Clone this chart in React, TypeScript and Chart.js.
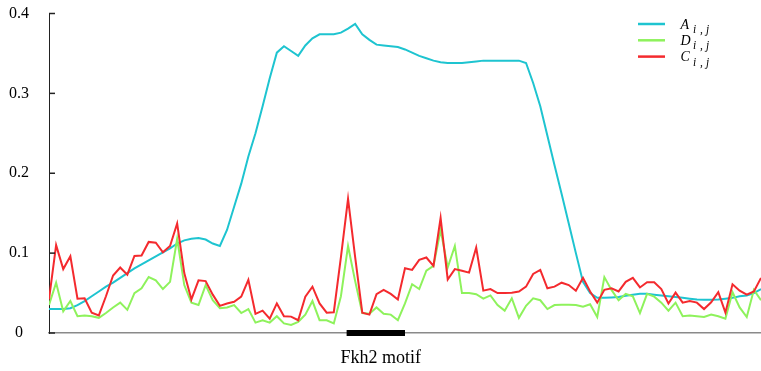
import React, { useEffect, useRef } from "react";
import { Chart, registerables } from "chart.js";

Chart.register(...registerables);

// Series values, one per position (0..100)
const seriesA = [
  0.030, 0.030, 0.030, 0.031, 0.035, 0.040, 0.046, 0.052, 0.058, 0.063,
  0.069, 0.075, 0.081, 0.086, 0.091, 0.096, 0.101, 0.106, 0.112, 0.116,
  0.118, 0.119, 0.117, 0.112, 0.109, 0.129, 0.158, 0.187, 0.221, 0.250,
  0.284, 0.319, 0.351, 0.359, 0.353, 0.347, 0.360, 0.369, 0.374, 0.374,
  0.374, 0.376, 0.381, 0.387, 0.374, 0.367, 0.361, 0.360, 0.359, 0.358,
  0.355, 0.351, 0.347, 0.344, 0.341, 0.339, 0.338, 0.338, 0.338, 0.339,
  0.340, 0.341, 0.341, 0.341, 0.341, 0.341, 0.341, 0.338, 0.313, 0.284,
  0.247, 0.210, 0.174, 0.137, 0.100, 0.064, 0.050, 0.044, 0.044, 0.0445,
  0.045, 0.0465, 0.048, 0.049, 0.049, 0.048, 0.047, 0.046, 0.045, 0.044,
  0.043, 0.042, 0.0415, 0.0415, 0.042, 0.043, 0.044, 0.046, 0.047, 0.050,
  0.055,
];

const seriesD = [
  0.035, 0.063, 0.027, 0.040, 0.021, 0.022, 0.021, 0.019, 0.025, 0.032,
  0.038, 0.029, 0.050, 0.056, 0.070, 0.066, 0.055, 0.064, 0.118, 0.060,
  0.038, 0.035, 0.060, 0.041, 0.031, 0.032, 0.035, 0.025, 0.030, 0.013,
  0.016, 0.013, 0.021, 0.012, 0.010, 0.014, 0.023, 0.040, 0.016, 0.016,
  0.012, 0.046, 0.109, 0.065, 0.025, 0.024, 0.032, 0.024, 0.023, 0.016,
  0.037, 0.061, 0.055, 0.078, 0.084, 0.129, 0.082, 0.109, 0.050, 0.050,
  0.0485, 0.043, 0.047, 0.035, 0.028, 0.0435, 0.019, 0.034, 0.0435, 0.041,
  0.030, 0.035, 0.0355, 0.0355, 0.035, 0.033, 0.036, 0.020, 0.070, 0.054,
  0.041, 0.049, 0.046, 0.025, 0.049, 0.0455, 0.038, 0.028, 0.038, 0.021,
  0.022, 0.021, 0.020, 0.023, 0.021, 0.018, 0.051, 0.032, 0.020, 0.054,
  0.041,
];

const seriesC = [
  0.042, 0.110, 0.080, 0.096, 0.043, 0.0435, 0.0255, 0.022, 0.046, 0.072,
  0.082, 0.073, 0.0965, 0.097, 0.114, 0.113, 0.101, 0.109, 0.137, 0.075,
  0.042, 0.066, 0.065, 0.048, 0.034, 0.037, 0.039, 0.0455, 0.0665, 0.024,
  0.028, 0.018, 0.037, 0.021, 0.0205, 0.016, 0.0455, 0.058, 0.037, 0.0255,
  0.026, 0.095, 0.168, 0.095, 0.0255, 0.023, 0.0485, 0.054, 0.049, 0.042,
  0.081, 0.079, 0.0915, 0.0945, 0.084, 0.144, 0.067, 0.080, 0.078, 0.0756,
  0.107, 0.053, 0.055, 0.050, 0.050, 0.0505, 0.052, 0.058, 0.074, 0.079,
  0.056, 0.058, 0.063, 0.060, 0.053, 0.069, 0.052, 0.038, 0.054, 0.056,
  0.052, 0.064, 0.069, 0.057, 0.0635, 0.0635, 0.055, 0.037, 0.0506, 0.038,
  0.040, 0.038, 0.030, 0.0385, 0.051, 0.0255, 0.061, 0.053, 0.048, 0.052,
  0.069,
];

const seriesNames = ["A", "D", "C"];
const seriesSubscript = "i,j";
const yTickValues = [0, 0.1, 0.2, 0.3, 0.4];
const yTickLabels = ["0", "0.1", "0.2", "0.3", "0.4"];
const xMin = 0;
const xMax = 100;
const motifStart = 41.8;
const motifEnd = 50;
const motifLabel = "Fkh2 motif";
const motifLabelAt = 46.6;

const COLORS = ["#1ec4d0", "#8ef25c", "#f42a2e"];
const SERIF = '"Liberation Serif", "Times New Roman", serif';

const toPoints = (arr: number[]) => arr.map((v, i) => ({ x: i, y: v }));

const overlayPlugin = {
  id: "overlay",
  afterDraw(chart: any) {
    const { ctx, chartArea, scales } = chart;
    const xs = scales.x;
    const ys = scales.y;
    ctx.save();
    // inward ticks on y axis
    ctx.strokeStyle = "#222";
    ctx.lineWidth = 1.5;
    yTickValues.forEach((v) => {
      const py = ys.getPixelForValue(v);
      ctx.beginPath();
      ctx.moveTo(chartArea.left, py);
      ctx.lineTo(chartArea.left + 6, py);
      ctx.stroke();
    });
    // motif bar
    const x0 = xs.getPixelForValue(motifStart);
    const x1 = xs.getPixelForValue(motifEnd);
    const yb = ys.getPixelForValue(0);
    ctx.fillStyle = "#000";
    ctx.fillRect(x0, yb - 3, x1 - x0, 6);
    // motif label
    ctx.font = `18px ${SERIF}`;
    ctx.textAlign = "center";
    ctx.textBaseline = "alphabetic";
    ctx.fillText(motifLabel, xs.getPixelForValue(motifLabelAt), yb + 30);
    // legend
    const lx = chartArea.right - 123;
    chart.data.datasets.forEach((ds: any, i: number) => {
      const ly = 24 + i * 16.3;
      ctx.strokeStyle = ds.borderColor;
      ctx.lineWidth = 2.5;
      ctx.beginPath();
      ctx.moveTo(lx, ly);
      ctx.lineTo(lx + 27, ly);
      ctx.stroke();
      ctx.fillStyle = "#000";
      ctx.textAlign = "left";
      ctx.font = `italic 14px ${SERIF}`;
      ctx.fillText(seriesNames[i], lx + 42.5, ly + 4.5);
      ctx.font = `italic 11.5px ${SERIF}`;
      const parts = seriesSubscript.split("");
      let sx = lx + 55;
      parts.forEach((p) => {
        ctx.fillText(p, sx, ly + 9);
        sx += p === "," ? 6 : 7;
      });
    });
    ctx.restore();
  },
};

export default function App() {
  const canvasRef = useRef<HTMLCanvasElement | null>(null);

  useEffect(() => {
    if (!canvasRef.current) return;
    const chart = new Chart(canvasRef.current, {
      type: "line",
      data: {
        datasets: [
          { label: seriesNames[0], data: toPoints(seriesA), borderColor: COLORS[0], order: 3 },
          { label: seriesNames[1], data: toPoints(seriesD), borderColor: COLORS[1], order: 2 },
          { label: seriesNames[2], data: toPoints(seriesC), borderColor: COLORS[2], order: 1 },
        ].map((d) => ({
          ...d,
          borderWidth: 2,
          pointRadius: 0,
          tension: 0,
          fill: false,
        })),
      },
      options: {
        animation: false,
        responsive: false,
        maintainAspectRatio: false,
        layout: { padding: { top: 13.5, right: 0, left: 0, bottom: 0 } },
        plugins: { legend: { display: false }, tooltip: { enabled: false } },
        scales: {
          x: {
            type: "linear",
            min: xMin,
            max: xMax,
            ticks: { display: false },
            grid: { display: false, drawTicks: false },
            border: { display: true, color: "#8a8a8a", width: 1.5 },
            afterFit: (s: any) => {
              s.height = 38;
              s.paddingLeft = 0;
              s.paddingRight = 0;
            },
          },
          y: {
            min: 0,
            max: 0.4,
            afterBuildTicks: (s: any) => {
              s.ticks = yTickValues.map((v) => ({ value: v }));
            },
            ticks: {
              font: { family: SERIF, size: 16 },
              color: "#000",
              crossAlign: "center",
              padding: 20,
              callback: (v: any) => {
                const idx = yTickValues.findIndex((t) => Math.abs(t - Number(v)) < 1e-9);
                return idx >= 0 ? yTickLabels[idx] : "";
              },
            },
            grid: { display: false, drawTicks: false },
            border: { display: true, color: "#222", width: 1 },
            afterFit: (s: any) => {
              s.width = 49;
              s.paddingTop = 0;
              s.paddingBottom = 0;
            },
          },
        },
      },
      plugins: [overlayPlugin],
    });
    return () => chart.destroy();
  }, []);

  return (
    <div style={{ position: "absolute", left: 0, top: 0, width: 761, height: 371, background: "#fff" }}>
      <canvas ref={canvasRef} width={761} height={371} style={{ width: 761, height: 371 }} />
    </div>
  );
}
